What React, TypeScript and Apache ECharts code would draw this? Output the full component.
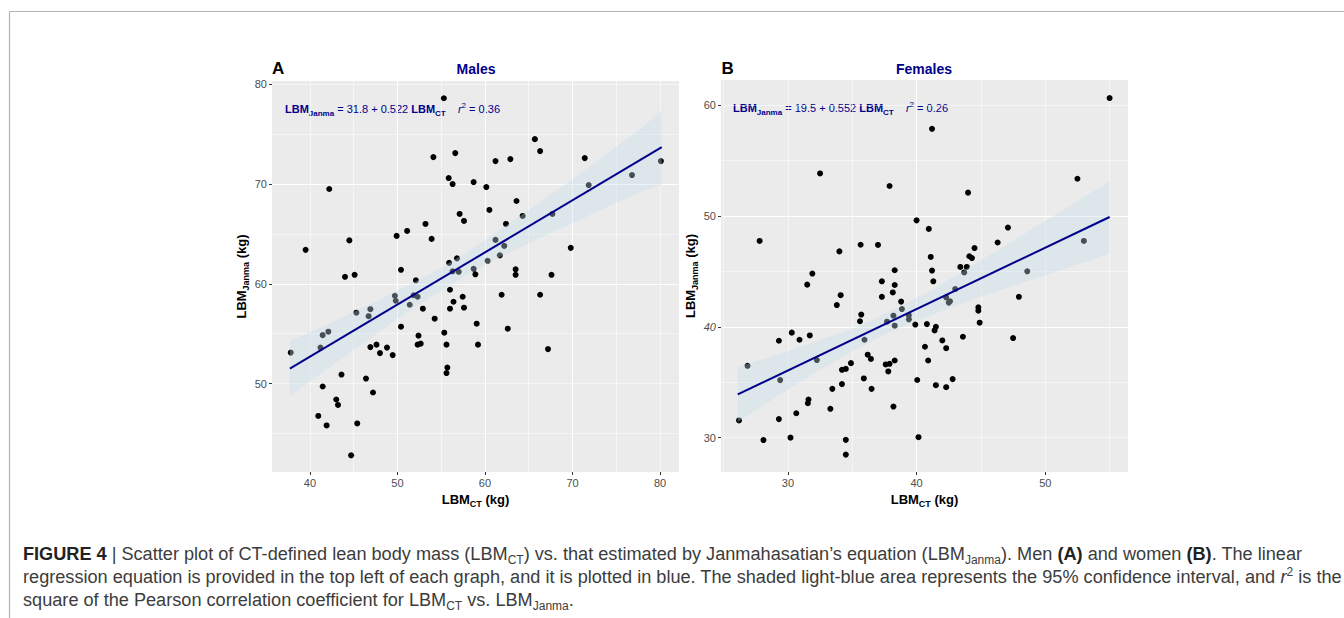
import React, { useEffect, useRef } from 'react';
import * as echarts from 'echarts';

// ---------- DATA ----------
const maleCT = [55.3, 65.7, 66.3, 54.1, 56.6, 61.2, 62.9, 71.4, 80.1, 55.85, 56.3, 58.7, 60.15, 71.85, 76.8, 42.2, 63.6, 60.5, 57.1, 67.7, 64.3, 57.6, 62.4, 53.2, 51.1, 49.9, 53.9, 44.5, 61.2, 62.2, 69.8, 39.5, 55.9, 56.8, 61.7, 60.3, 50.4, 56.3, 57.0, 58.7, 58.9, 63.5, 63.5, 67.6, 44.0, 45.1, 52.1, 56.0, 56.4, 66.3, 61.9, 49.7, 49.8, 51.85, 52.3, 51.4, 57.45, 57.6, 56.0, 52.9, 45.3, 46.9, 46.7, 54.25, 59.05, 50.4, 62.6, 42.1, 41.45, 55.35, 52.4, 41.2, 46.9, 47.6, 48.8, 48.0, 49.45, 52.3, 52.65, 55.6, 59.2, 67.2, 37.8, 55.7, 55.6, 43.6, 46.4, 41.45, 47.2, 43.0, 43.2, 40.95, 41.9, 45.4, 44.7];
const maleJanma = [78.6, 74.5, 73.3, 72.7, 73.1, 72.3, 72.5, 72.6, 72.3, 70.6, 70.0, 70.2, 69.7, 69.9, 70.9, 69.5, 68.3, 67.4, 67.0, 67.0, 66.8, 66.3, 66.0, 66.0, 65.3, 64.8, 64.5, 64.35, 64.4, 63.8, 63.6, 63.4, 62.1, 62.55, 62.85, 62.3, 61.4, 61.25, 61.2, 61.5, 60.95, 61.45, 60.9, 60.9, 60.7, 60.9, 60.35, 59.4, 58.2, 58.9, 58.9, 58.8, 58.3, 58.85, 58.7, 57.9, 58.7, 57.6, 57.5, 57.5, 57.1, 57.45, 56.75, 56.5, 56.0, 55.7, 55.5, 55.2, 54.85, 55.1, 54.8, 53.6, 53.65, 53.9, 53.6, 53.05, 52.85, 53.9, 54.0, 53.9, 53.9, 53.45, 53.1, 51.6, 51.05, 50.9, 50.5, 49.7, 49.1, 48.4, 47.85, 46.75, 45.8, 46.0, 42.8];

const femaleCT = [55.0, 41.2, 32.5, 37.9, 44.0, 52.5, 40.0, 40.95, 47.1, 27.8, 35.65, 37.0, 46.3, 53.0, 34.0, 44.5, 41.1, 44.1, 44.3, 41.2, 38.3, 43.4, 43.9, 43.7, 48.6, 31.9, 37.3, 41.3, 31.5, 38.3, 43.0, 34.1, 37.3, 47.95, 38.15, 42.3, 42.5, 42.6, 38.8, 33.8, 38.86, 44.8, 44.8, 35.7, 38.2, 39.4, 39.4, 35.6, 37.7, 38.3, 39.9, 40.8, 41.5, 41.4, 44.9, 43.6, 47.5, 30.3, 31.7, 30.9, 29.3, 35.95, 42.0, 40.65, 42.3, 36.2, 36.45, 32.25, 38.3, 40.9, 34.9, 34.2, 34.5, 37.6, 37.9, 37.8, 26.86, 29.4, 35.9, 34.2, 33.45, 36.5, 40.05, 41.5, 42.3, 42.8, 31.6, 31.55, 33.3, 38.2, 30.65, 26.2, 29.3, 28.1, 30.2, 34.5, 40.15, 34.5];
const femaleJanma = [60.63, 57.86, 53.83, 52.7, 52.1, 53.35, 49.6, 48.83, 48.95, 47.74, 47.4, 47.38, 47.6, 47.74, 46.8, 47.1, 46.3, 46.36, 46.2, 45.07, 45.1, 45.4, 45.4, 44.9, 45.0, 44.8, 44.1, 44.1, 43.8, 43.77, 43.4, 42.85, 42.7, 42.7, 43.1, 42.65, 42.18, 42.3, 42.27, 41.96, 41.6, 41.75, 41.45, 41.1, 41.0, 41.03, 40.67, 40.5, 40.46, 40.1, 40.2, 40.24, 40.0, 39.67, 40.37, 39.1, 38.98, 39.47, 39.22, 38.83, 38.74, 38.83, 38.77, 38.2, 38.07, 37.48, 37.1, 37.0, 36.96, 36.96, 36.72, 36.12, 36.2, 36.6, 36.66, 35.97, 36.48, 35.19, 35.34, 34.83, 34.4, 34.4, 35.2, 34.73, 34.55, 35.28, 33.44, 33.1, 32.6, 32.8, 32.2, 31.55, 31.67, 29.78, 30.0, 29.8, 30.04, 28.47];

// regression lines (end points)
const maleFitX = [37.7, 80.2];
const maleFitY = [51.5, 73.7];
const femaleFitX = [26.1, 55.0];
const femaleFitY = [33.9, 49.9];

// 95% confidence bands
const maleBandX = [37.7, 42, 46, 50, 54, 58, 62, 66, 70, 74, 78, 80.2];
const maleBandLo = [48.7, 51.5, 54.0, 56.5, 58.8, 60.9, 62.8, 64.5, 66.1, 67.7, 69.3, 69.9];
const maleBandHi = [54.3, 55.9, 57.6, 59.3, 61.1, 63.2, 65.6, 68.0, 70.5, 73.1, 75.7, 77.4];
const femaleBandX = [26.1, 29, 32, 35, 38, 41, 44, 47, 50, 53, 55];
const femaleBandLo = [31.4, 33.6, 35.8, 37.8, 39.6, 41.0, 42.3, 43.5, 44.65, 45.8, 46.6];
const femaleBandHi = [36.4, 37.4, 38.6, 39.8, 41.4, 43.2, 45.3, 47.4, 49.55, 51.7, 53.1];

// tick labels
const maleXTicks = [40, 50, 60, 70, 80];
const maleYTicks = [50, 60, 70, 80];
const femaleXTicks = [30, 40, 50];
const femaleYTicks = [30, 40, 50, 60];

const FONT = '"Liberation Sans", Arial, Helvetica, sans-serif';
const NAVY = '#00008B';
const BAND = 'rgba(194,222,236,0.36)';
const CAP = '#3c3c3c';

const nameRich = {
  b: { fontFamily: FONT, fontSize: 13, fontWeight: 'bold', color: '#000', lineHeight: 18 },
  s: { fontFamily: FONT, fontSize: 9, fontWeight: 'bold', color: '#000', lineHeight: 12, verticalAlign: 'bottom' },
};

function majorAxis(dim: 'x' | 'y', gridIndex: number, min: number, max: number, ticks: number[], name: string, nameGap: number, italic40 = false) {
  return {
    type: 'value',
    gridIndex,
    min,
    max,
    minInterval: 10,
    maxInterval: 10,
    position: dim === 'x' ? 'bottom' : 'left',
    axisLine: { show: false },
    axisTick: { show: true, length: 3, lineStyle: { color: '#333', width: 1 }, customValues: ticks },
    axisLabel: {
      show: true,
      color: '#4D4D4D',
      fontSize: 11,
      fontFamily: FONT,
      margin: 5,
      customValues: ticks,
      formatter: (v: number) => (italic40 && v === 40 ? '{it|40}' : String(v)),
      rich: { it: { fontStyle: 'italic', fontSize: 11, fontFamily: FONT, color: '#4D4D4D' } },
    },
    splitLine: { show: true, showMinLine: false, showMaxLine: false, lineStyle: { color: '#ffffff', width: 1.1 } },
    name,
    nameLocation: 'middle',
    nameGap,
    nameTextStyle: { rich: nameRich },
  };
}

function minorAxis(dim: 'x' | 'y', gridIndex: number, min: number, max: number) {
  return {
    type: 'value',
    gridIndex,
    min,
    max,
    minInterval: 5,
    maxInterval: 5,
    position: dim === 'x' ? 'bottom' : 'left',
    axisLine: { show: false },
    axisTick: { show: false },
    axisLabel: { show: false },
    splitLine: { show: true, showMinLine: false, showMaxLine: false, lineStyle: { color: '#ffffff', width: 0.5 } },
  };
}

function bandSeries(axisIndex: number, bx: number[], lo: number[], hi: number[]) {
  return {
    type: 'custom',
    xAxisIndex: axisIndex,
    yAxisIndex: axisIndex,
    z: 3,
    silent: true,
    data: [[bx[0], lo[0]]],
    renderItem: (_params: any, api: any) => {
      const pts: number[][] = [];
      for (let i = 0; i < bx.length; i++) pts.push(api.coord([bx[i], hi[i]]));
      for (let i = bx.length - 1; i >= 0; i--) pts.push(api.coord([bx[i], lo[i]]));
      return { type: 'polygon', shape: { points: pts }, style: { fill: BAND } };
    },
  };
}

function pairs(xs: number[], ys: number[]) {
  return xs.map((x, i) => [x, ys[i]]);
}

const eqRich = {
  b: { fontFamily: FONT, fontSize: 11, fontWeight: 'bold', fill: NAVY, lineHeight: 16 },
  bs: { fontFamily: FONT, fontSize: 8, fontWeight: 'bold', fill: NAVY, lineHeight: 10, verticalAlign: 'bottom' },
  n: { fontFamily: FONT, fontSize: 11, fill: NAVY, lineHeight: 16 },
  i: { fontFamily: FONT, fontSize: 11, fontStyle: 'italic', fill: NAVY, lineHeight: 16 },
  sup: { fontFamily: FONT, fontSize: 8, fill: NAVY, lineHeight: 10, verticalAlign: 'top' },
};

const CS = 18.15;
const capRich = {
  n: { fontFamily: FONT, fontSize: CS, fill: CAP, lineHeight: 23 },
  b: { fontFamily: FONT, fontSize: CS, fontWeight: 'bold', fill: '#222', lineHeight: 23 },
  s: { fontFamily: FONT, fontSize: 12, fill: CAP, lineHeight: 17, verticalAlign: 'bottom' },
  i: { fontFamily: FONT, fontSize: CS, fontStyle: 'italic', fill: CAP, lineHeight: 23 },
  sup: { fontFamily: FONT, fontSize: 12, fill: CAP, lineHeight: 13, verticalAlign: 'top' },
};

function txt(x: number, y: number, text: string, style: any) {
  return { type: 'text', x, y, silent: true, style: { text, ...style } };
}

export default function App() {
  const ref = useRef<HTMLDivElement>(null);
  useEffect(() => {
    document.body.style.margin = '0';
    if (!ref.current) return;
    const chart = echarts.init(ref.current, undefined, { renderer: 'svg' });
    const option: any = {
      animation: false,
      backgroundColor: '#ffffff',
      grid: [
        { left: 272, top: 81, width: 407, height: 391, show: true, backgroundColor: '#EBEBEB', borderWidth: 0 },
        { left: 721, top: 80, width: 407, height: 392, show: true, backgroundColor: '#EBEBEB', borderWidth: 0 },
      ],
      xAxis: [
        majorAxis('x', 0, 35.66, 82.17, maleXTicks, '{b|LBM}{s|CT}{b| (kg)}', 14),
        minorAxis('x', 0, 35.66, 82.17),
        majorAxis('x', 1, 24.8, 56.43, femaleXTicks, '{b|LBM}{s|CT}{b| (kg)}', 14),
        minorAxis('x', 1, 24.8, 56.43),
      ],
      yAxis: [
        majorAxis('y', 0, 41.13, 80.33, maleYTicks, '{b|LBM}{s|Janma}{b| (kg)}', 18),
        minorAxis('y', 0, 41.13, 80.33),
        majorAxis('y', 1, 26.9, 62.26, femaleYTicks, '{b|LBM}{s|Janma}{b| (kg)}', 18, true),
        minorAxis('y', 1, 26.9, 62.26),
      ],
      series: [
        { type: 'scatter', xAxisIndex: 0, yAxisIndex: 0, z: 2, symbolSize: 6, itemStyle: { color: '#000', opacity: 1 }, data: pairs(maleCT, maleJanma) },
        bandSeries(0, maleBandX, maleBandLo, maleBandHi),
        { type: 'line', xAxisIndex: 0, yAxisIndex: 0, z: 4, showSymbol: false, lineStyle: { color: NAVY, width: 2 }, data: pairs(maleFitX, maleFitY) },
        { type: 'scatter', xAxisIndex: 2, yAxisIndex: 2, z: 2, symbolSize: 6, itemStyle: { color: '#000', opacity: 1 }, data: pairs(femaleCT, femaleJanma) },
        bandSeries(2, femaleBandX, femaleBandLo, femaleBandHi),
        { type: 'line', xAxisIndex: 2, yAxisIndex: 2, z: 4, showSymbol: false, lineStyle: { color: NAVY, width: 2 }, data: pairs(femaleFitX, femaleFitY) },
      ],
      graphic: [
        { type: 'line', silent: true, shape: { x1: 9.5, y1: 11.5, x2: 1344, y2: 11.5 }, style: { stroke: '#b4b4b4', lineWidth: 1.2 } },
        { type: 'line', silent: true, shape: { x1: 9.5, y1: 11.5, x2: 9.5, y2: 618 }, style: { stroke: '#b4b4b4', lineWidth: 1.2 } },
        txt(272, 68, 'A', { font: `bold 17px ${FONT}`, fill: '#000', textVerticalAlign: 'middle', verticalAlign: 'middle' }),
        txt(721.5, 68, 'B', { font: `bold 17px ${FONT}`, fill: '#000', textVerticalAlign: 'middle', verticalAlign: 'middle' }),
        txt(476, 69, 'Males', { font: `bold 14px ${FONT}`, fill: NAVY, textAlign: 'center', align: 'center', textVerticalAlign: 'middle', verticalAlign: 'middle' }),
        txt(924, 69, 'Females', { font: `bold 14px ${FONT}`, fill: NAVY, textAlign: 'center', align: 'center', textVerticalAlign: 'middle', verticalAlign: 'middle' }),
        txt(285, 109, '{b|LBM}{bs|Janma}{n| = 31.8 + 0.522 }{b|LBM}{bs|CT}{n|    }{i|r}{sup|2}{n| = 0.36}', { rich: eqRich, textVerticalAlign: 'middle', verticalAlign: 'middle' }),
        txt(733, 108, '{b|LBM}{bs|Janma}{n| = 19.5 + 0.552 }{b|LBM}{bs|CT}{n|    }{i|r}{sup|2}{n| = 0.26}', { rich: eqRich, textVerticalAlign: 'middle', verticalAlign: 'middle' }),
        txt(23, 554, '{b|FIGURE 4}{n| | Scatter plot of CT-defined lean body mass (LBM}{s|CT}{n|) vs. that estimated by Janmahasatian\u2019s equation (LBM}{s|Janma}{n|). Men }{b|(A)}{n| and women }{b|(B)}{n|. The linear}', { rich: capRich, textVerticalAlign: 'middle', verticalAlign: 'middle' }),
        txt(23, 577, '{n|regression equation is provided in the top left of each graph, and it is plotted in blue. The shaded light-blue area represents the 95% confidence interval, and }{i|r}{sup|2}{n| is the}', { rich: capRich, textVerticalAlign: 'middle', verticalAlign: 'middle' }),
        txt(23, 600, '{n|square of the Pearson correlation coefficient for LBM}{s|CT}{n| vs. LBM}{s|Janma}{n|.}', { rich: capRich, textVerticalAlign: 'middle', verticalAlign: 'middle' }),
      ],
    };
    chart.setOption(option);
    return () => chart.dispose();
  }, []);
  return <div ref={ref} style={{ width: 1344, height: 618 }} />;
}
